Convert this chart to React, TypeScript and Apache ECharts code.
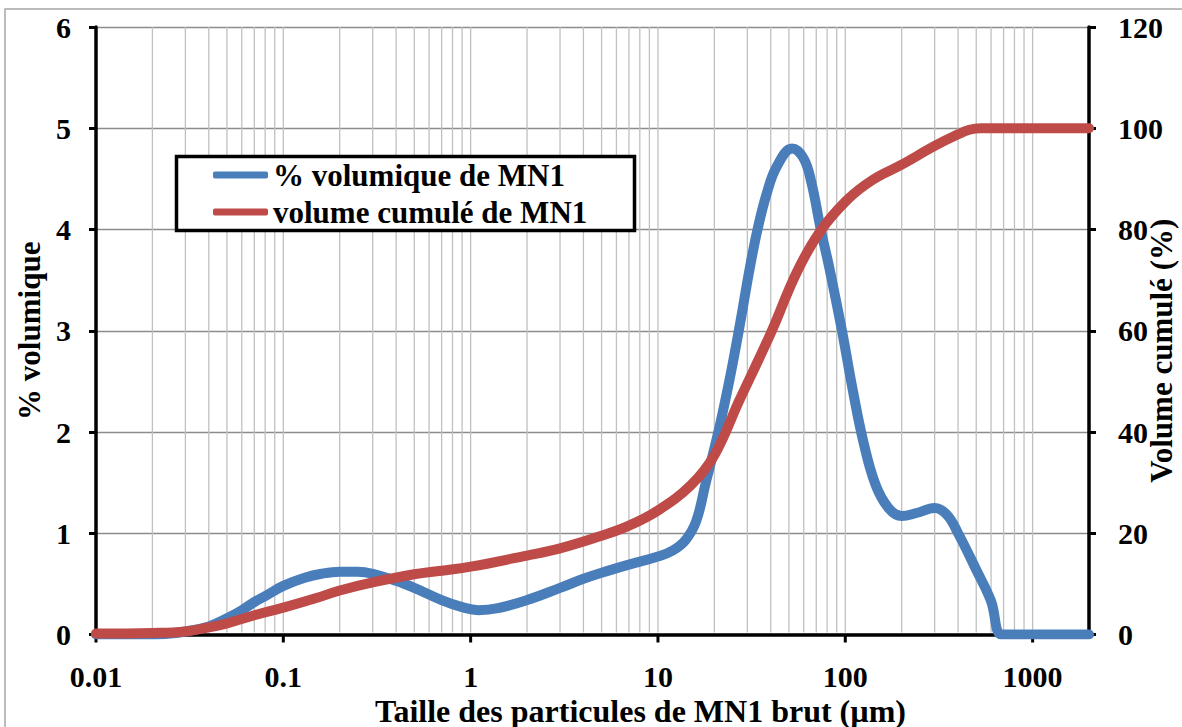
import React, { useEffect, useRef } from "react";
import * as echarts from "echarts";

// Particle sizes (µm) and % volume (left axis)
const volSizes = [0.01, 0.02, 0.025, 0.03, 0.04, 0.05, 0.06, 0.07, 0.08, 0.1, 0.13, 0.16, 0.2, 0.25, 0.3, 0.4, 0.5, 0.7, 0.9, 1.1, 1.4, 2, 3, 4, 5, 7, 10, 12, 14, 16, 18, 21, 24, 27, 31, 34, 38, 43, 52, 60, 66, 74, 82, 96, 110, 125, 145, 170, 200, 240, 300, 350, 400, 500, 600, 680, 800, 1000, 2000];
const volPct = [0, 0, 0.01, 0.03, 0.08, 0.16, 0.24, 0.32, 0.38, 0.48, 0.56, 0.6, 0.62, 0.62, 0.6, 0.53, 0.46, 0.34, 0.27, 0.24, 0.26, 0.34, 0.46, 0.55, 0.61, 0.69, 0.77, 0.83, 0.93, 1.12, 1.5, 2.0, 2.5, 3.0, 3.63, 4.0, 4.35, 4.62, 4.8, 4.7, 4.46, 4.0, 3.63, 3.0, 2.4, 1.9, 1.48, 1.25, 1.17, 1.2, 1.25, 1.18, 1.0, 0.64, 0.33, 0, 0, 0, 0];

// Particle sizes (µm) and cumulative volume % (right axis)
const cumSizes = [0.01, 0.02, 0.03, 0.04, 0.05, 0.07, 0.1, 0.15, 0.2, 0.3, 0.5, 0.7, 1, 2, 3, 5, 7, 10, 15, 20, 27, 40, 55, 73, 102, 140, 200, 300, 400, 460, 530, 700, 2000];
const cumPct = [0.2, 0.3, 0.6, 1.4, 2.2, 3.8, 5.3, 7.2, 8.7, 10.3, 11.9, 12.6, 13.4, 15.6, 17, 19.5, 21.5, 24.5, 29.5, 35.4, 46, 59.5, 71.5, 79.5, 85.8, 89.8, 92.8, 96.5, 98.8, 99.7, 100, 100, 100];

const seriesNames = ["% volumique de MN1", "volume cumulé de MN1"];
const xTickLabels = ["0.01", "0.1", "1", "10", "100", "1000"];
const xDecadeExponents = [-2, -1, 0, 1, 2, 3];
const gridMultipliers = [1, 2, 3, 4, 5, 6, 7, 8, 9];

const FONT = "Liberation Serif";

export default function App() {
  const ref = useRef<HTMLDivElement>(null);

  useEffect(() => {
    if (!ref.current) return;
    const chart = echarts.init(ref.current, null, { renderer: "svg" });

    const gridData: number[][] = [];
    xDecadeExponents.forEach((e) => {
      gridMultipliers.forEach((m) => {
        const v = m * Math.pow(10, e);
        if (v <= 2000) gridData.push([v, m === 1 ? 1 : 0]);
      });
    });

    const textStyle = { fontFamily: FONT, fontWeight: "bold" as const, color: "#000" };

    chart.setOption({
      animation: false,
      backgroundColor: "#fff",
      grid: {
        left: 96,
        right: 93,
        top: 27,
        bottom: 92.5,
        containLabel: false,
        outerBoundsMode: "none",
      },
      xAxis: {
        type: "log",
        logBase: 10,
        min: 0.01,
        max: 2000,
        name: "Taille des particules de MN1 brut (µm)",
        nameLocation: "middle",
        nameGap: 60,
        nameMoveOverlap: false,
        nameTextStyle: { ...textStyle, fontSize: 32, lineHeight: 32, padding: [0, 0, 0, 96] },
        axisLine: { show: true, lineStyle: { color: "#000", width: 3.5 } },
        axisTick: { show: false },
        splitLine: { show: false },
        minorTick: { show: false },
        axisLabel: {
          ...textStyle,
          fontSize: 30,
          lineHeight: 26,
          margin: 29,
          formatter: (v: number) => {
            const e = Math.log10(v);
            const r = Math.round(e);
            if (Math.abs(e - r) > 1e-6) return "";
            const idx = xDecadeExponents.indexOf(r);
            return idx >= 0 ? xTickLabels[idx] : "";
          },
        },
      },
      yAxis: [
        {
          type: "value",
          min: 0,
          max: 6,
          interval: 1,
          name: "% volumique",
          nameLocation: "middle",
          nameGap: 51,
          nameMoveOverlap: false,
          nameTextStyle: { ...textStyle, fontSize: 31 },
          axisLine: { show: true, lineStyle: { color: "#000", width: 3.5 } },
          axisTick: { show: true, inside: false, length: 7, lineStyle: { color: "#000", width: 3 } },
          axisLabel: { ...textStyle, fontSize: 30, margin: 25 },
          splitLine: { show: true, lineStyle: { color: "#8c8c8c", width: 1.3 } },
        },
        {
          type: "value",
          min: 0,
          max: 120,
          interval: 20,
          position: "right",
          name: "Volume cumulé (%)",
          nameLocation: "middle",
          nameGap: 57,
          nameMoveOverlap: false,
          nameTextStyle: { ...textStyle, fontSize: 31, padding: [0, 40, 0, 0] },
          axisLine: { show: true, lineStyle: { color: "#000", width: 3.5 } },
          axisTick: { show: true, inside: false, length: 7, lineStyle: { color: "#000", width: 3 } },
          axisLabel: { ...textStyle, fontSize: 30, margin: 29 },
          splitLine: { show: false },
        },
      ],
      legend: {
        data: seriesNames,
        orient: "vertical",
        left: 213,
        top: 158,
        padding: 0,
        itemGap: 3,
        itemWidth: 55,
        itemHeight: 7,
        icon: "roundRect",
        z: 10,
        textStyle: { ...textStyle, fontSize: 31, lineHeight: 34, padding: [0, 0, 0, 0] },
      },
      graphic: [
        {
          type: "rect",
          z: 5,
          silent: true,
          shape: { x: 176.5, y: 156.5, width: 458, height: 74 },
          style: { fill: "#fff", stroke: "#000", lineWidth: 3.5 },
        },
        {
          type: "rect",
          z: 0,
          silent: true,
          shape: { x: 5, y: 9, width: 1400, height: 900 },
          style: { fill: "none", stroke: "#a6a6a6", lineWidth: 1.5 },
        },
      ],
      series: [
        {
          type: "custom",
          name: "grid",
          silent: true,
          z: 1,
          clip: false,
          xAxisIndex: 0,
          yAxisIndex: 0,
          encode: { x: 0, y: 1 },
          data: gridData,
          renderItem: (params: any, api: any) => {
            const v = api.value(0);
            const isDecade = api.value(1) === 1;
            const p0 = api.coord([v, 0]);
            const p1 = api.coord([v, 6]);
            const children: any[] = [];
            if (v > 0.0100001 && v < 1999) {
              children.push({
                type: "line",
                shape: { x1: p0[0], y1: p0[1] - 2, x2: p1[0], y2: p1[1] },
                style: { stroke: "#c0c0c0", lineWidth: 1.3 },
              });
            }
            if (isDecade) {
              children.push({
                type: "line",
                shape: { x1: p0[0], y1: p0[1], x2: p0[0], y2: p0[1] + 8 },
                style: { stroke: "#000", lineWidth: 3 },
              });
            }
            return { type: "group", children };
          },
        },
        {
          type: "line",
          name: seriesNames[0],
          xAxisIndex: 0,
          yAxisIndex: 0,
          z: 3,
          data: volSizes.map((s, i) => [s, volPct[i]]),
          showSymbol: false,
          symbol: "none",
          smooth: 0.4,
          color: "#4a7ebb",
          lineStyle: { color: "#4a7ebb", width: 10, cap: "round", join: "round" },
        },
        {
          type: "line",
          name: seriesNames[1],
          xAxisIndex: 0,
          yAxisIndex: 1,
          z: 3,
          data: cumSizes.map((s, i) => [s, cumPct[i]]),
          showSymbol: false,
          symbol: "none",
          smooth: 0.4,
          color: "#be4b48",
          lineStyle: { color: "#be4b48", width: 10, cap: "round", join: "round" },
        },
      ],
    });

    return () => chart.dispose();
  }, []);

  return (
    <div
      ref={ref}
      style={{ position: "absolute", left: 0, top: 0, width: 1182, height: 727 }}
    />
  );
}
